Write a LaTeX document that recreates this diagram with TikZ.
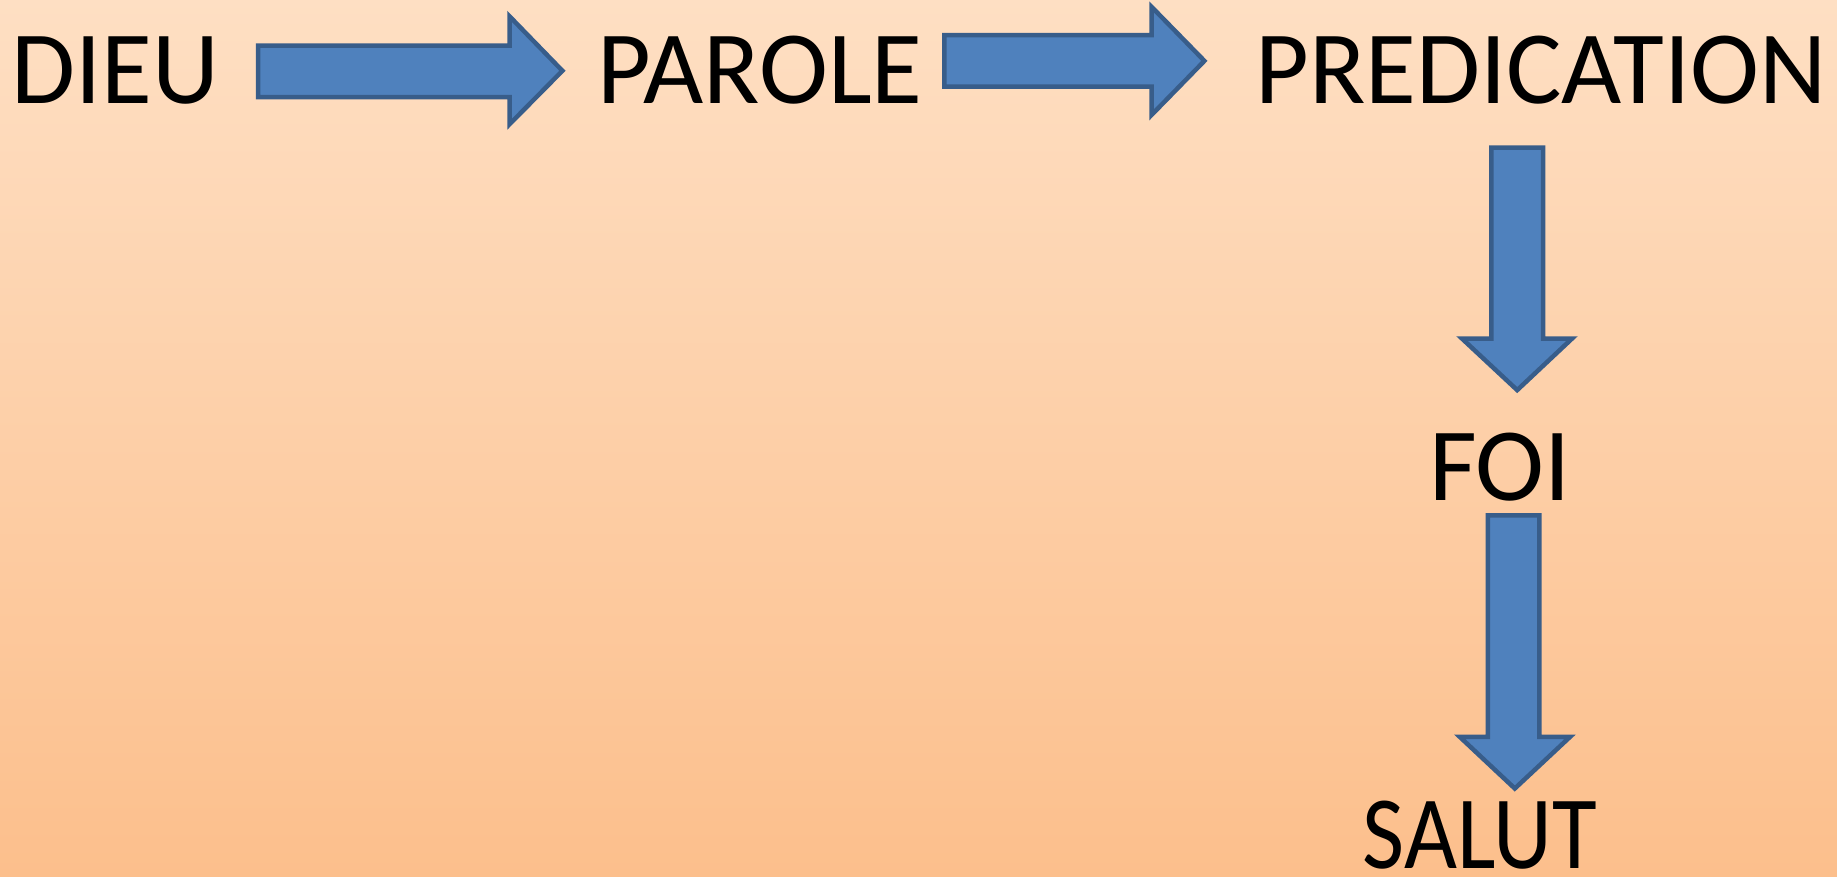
\documentclass[tikz,border=0pt]{standalone}
\usepackage{fontspec}
\setmainfont{Carlito}
\definecolor{bgtop}{RGB}{254,223,195}
\definecolor{bgbot}{RGB}{252,191,140}
\definecolor{arrfill}{HTML}{4F81BD}
\definecolor{arrline}{HTML}{385D8A}
\begin{document}
\begin{tikzpicture}[x=1pt,y=1pt,
  word/.style={anchor=base,inner sep=0pt,font=\fontsize{104}{110}\selectfont,text=black},
  blockarrow/.style={fill=arrfill,draw=arrline,line width=4.5pt,line join=miter}]
\useasboundingbox (0,0) rectangle (1837,876);
\shade[top color=bgtop,bottom color=bgbot] (0,0) rectangle (1837,876);
% words
\node[word] (dieu) at (115,772) {DIEU};
\node[word] (parole) at (760,772) {PAROLE};
\node[word] (predication) at (1541,772) {PREDICATION};
\node[word] (foi) at (1500,375.7) {FOI};
\node[word,xscale=0.88,transform shape] (salut) at (1480,7.5) {SALUT};
% arrow 1 : DIEU -> PAROLE
\draw[blockarrow] (258,830.3) -- (509.6,830.3) -- (509.6,859.6) -- (562.4,805.2)
  -- (509.6,751.8) -- (509.6,778.8) -- (258,778.8) -- cycle;
% arrow 2 : PAROLE -> PREDICATION
\draw[blockarrow] (944.3,840.9) -- (1151.7,840.9) -- (1151.7,869) -- (1204.4,815.1)
  -- (1151.7,761.2) -- (1151.7,789.3) -- (944.3,789.3) -- cycle;
% arrow 3 : PREDICATION -> FOI
\draw[blockarrow] (1491.4,728.4) -- (1543,728.4) -- (1543,537.4) -- (1572,537.4)
  -- (1517.2,485.9) -- (1462,537.4) -- (1491.4,537.4) -- cycle;
% arrow 4 : FOI -> SALUT
\draw[blockarrow] (1487.9,360.5) -- (1539.4,360.5) -- (1539.4,139.1) -- (1570,139.1)
  -- (1514.8,87.5) -- (1459.8,139.1) -- (1487.9,139.1) -- cycle;
\end{tikzpicture}
\end{document}
